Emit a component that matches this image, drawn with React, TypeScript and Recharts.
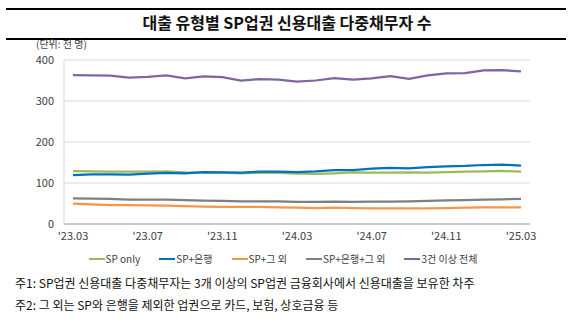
import React from "react";
import { LineChart, Line, XAxis, YAxis, CartesianGrid } from "recharts";

const months = [
  "'23.03", "'23.04", "'23.05", "'23.06", "'23.07", "'23.08", "'23.09", "'23.10", "'23.11", "'23.12",
  "'24.01", "'24.02", "'24.03", "'24.04", "'24.05", "'24.06", "'24.07", "'24.08", "'24.09", "'24.10",
  "'24.11", "'24.12", "'25.01", "'25.02", "'25.03",
];

const spOnly = [129, 128.5, 127.6, 127.6, 127.6, 128.5, 126, 125.2, 125.2, 123.6, 125.2, 124.4, 122.8, 122, 123.6, 126, 125.2, 125.2, 126, 125.2, 126.8, 127.6, 128.5, 129.3, 127.6];
const spBank = [119.5, 121, 121, 120.3, 122.8, 124.4, 123.6, 126.8, 126, 125.2, 127.6, 127.6, 126.8, 128.5, 131.7, 131.7, 135, 136.6, 135.8, 139, 140.6, 141.5, 143.9, 144.7, 142.3];
const spOther = [49.6, 48, 46.3, 46.3, 45.5, 44.7, 43.9, 42.3, 41.5, 41.5, 41.5, 40.7, 39.8, 39, 39.8, 39, 38.2, 38.2, 38.2, 38.2, 39, 39.8, 40.7, 40.7, 40.7];
const spBankOther = [62.6, 61.8, 61, 59.3, 59.3, 59.3, 58.5, 56.9, 56.1, 55.3, 55.3, 55.3, 54, 53.7, 54.5, 53.7, 54.5, 54.5, 55.3, 56.1, 57.7, 58.5, 59.3, 60.2, 61];
const threePlus = [363, 362.5, 362, 357, 359, 362.5, 355, 360, 358, 350, 353.6, 352, 347, 350, 355.7, 352, 355, 360.7, 354, 362.5, 367.5, 368, 374.6, 375.4, 372];

const yTicks = [0, 100, 200, 300, 400];

const series = [
  { key: "spOnly", name: "SP only", color: "#9bbb59", values: spOnly },
  { key: "spBank", name: "SP+은행", color: "#0070c0", values: spBank },
  { key: "spOther", name: "SP+그 외", color: "#f79646", values: spOther },
  { key: "spBankOther", name: "SP+은행+그 외", color: "#7f7f7f", values: spBankOther },
  { key: "threePlus", name: "3건 이상 전체", color: "#8064a2", values: threePlus },
];

const notes = [
  "주1: SP업권 신용대출 다중채무자는 3개 이상의 SP업권 금융회사에서 신용대출을 보유한 차주",
  "주2: 그 외는 SP와 은행을 제외한 업권으로 카드, 보험, 상호금융 등",
];

const chartData = months.map((m, i) => {
  const row: Record<string, string | number> = { month: m };
  series.forEach((s) => (row[s.key] = s.values[i]));
  return row;
});

const font = "'Noto Sans CJK KR', 'Noto Sans', sans-serif";

export default function App() {
  return (
    <div style={{ position: "absolute", left: 0, top: 0, width: 574, height: 323, background: "#fff", fontFamily: font, overflow: "hidden" }}>
      {/* 제목 */}
      <div style={{ position: "absolute", left: 6, top: 8, width: 560, height: 28, borderTop: "2px solid #000", borderBottom: "2px solid #000" }} />
      <div style={{ position: "absolute", left: 0, top: 10, width: 574, textAlign: "center", fontSize: 16, fontWeight: 700, color: "#111", lineHeight: "24px" }}>
        대출 유형별 SP업권 신용대출 다중채무자 수
      </div>
      <div style={{ position: "absolute", left: 36, top: 39, fontSize: 10, lineHeight: "10px", color: "#404040" }}>(단위: 천 명)</div>

      <div style={{ position: "absolute", left: 0, top: 0 }}>
        <LineChart width={574} height={323} data={chartData} margin={{ top: 60, right: 44, bottom: 69, left: 0 }}>
          <CartesianGrid vertical={false} stroke="#d9d9d9" />
          <XAxis
            dataKey="month"
            interval={3}
            padding={{ left: 9, right: 9 }}
            tickLine={false}
            axisLine={{ stroke: "#a6a6a6" }}
            tick={{ fontSize: 11, fill: "#404040", fontFamily: font }}
            height={30}
          />
          <YAxis
            domain={[0, 400]}
            ticks={yTicks}
            width={64}
            tickLine={false}
            tickMargin={4}
            axisLine={{ stroke: "#d9d9d9" }}
            tick={{ fontSize: 11, fill: "#404040", fontFamily: font }}
          />
          {series.map((s) => (
            <Line
              key={s.key}
              dataKey={s.key}
              name={s.name}
              stroke={s.color}
              strokeWidth={2.25}
              dot={false}
              type="linear"
              isAnimationActive={false}
            />
          ))}
        </LineChart>
      </div>

      {/* 범례 */}
      <div style={{ position: "absolute", left: 0, top: 251, width: 566, display: "flex", justifyContent: "center", gap: 19, fontSize: 10, color: "#404040" }}>
        {series.map((s) => (
          <div key={s.key} style={{ display: "flex", alignItems: "center" }}>
            <span style={{ display: "inline-block", width: 16, height: 2, background: s.color, marginRight: 1 }} />
            <span>{s.name}</span>
          </div>
        ))}
      </div>

      {/* 주석 */}
      {notes.map((n, i) => (
        <div key={i} style={{ position: "absolute", left: 15, top: 274 + i * 22, fontSize: 12, color: "#111", whiteSpace: "nowrap" }}>
          {n}
        </div>
      ))}
    </div>
  );
}
